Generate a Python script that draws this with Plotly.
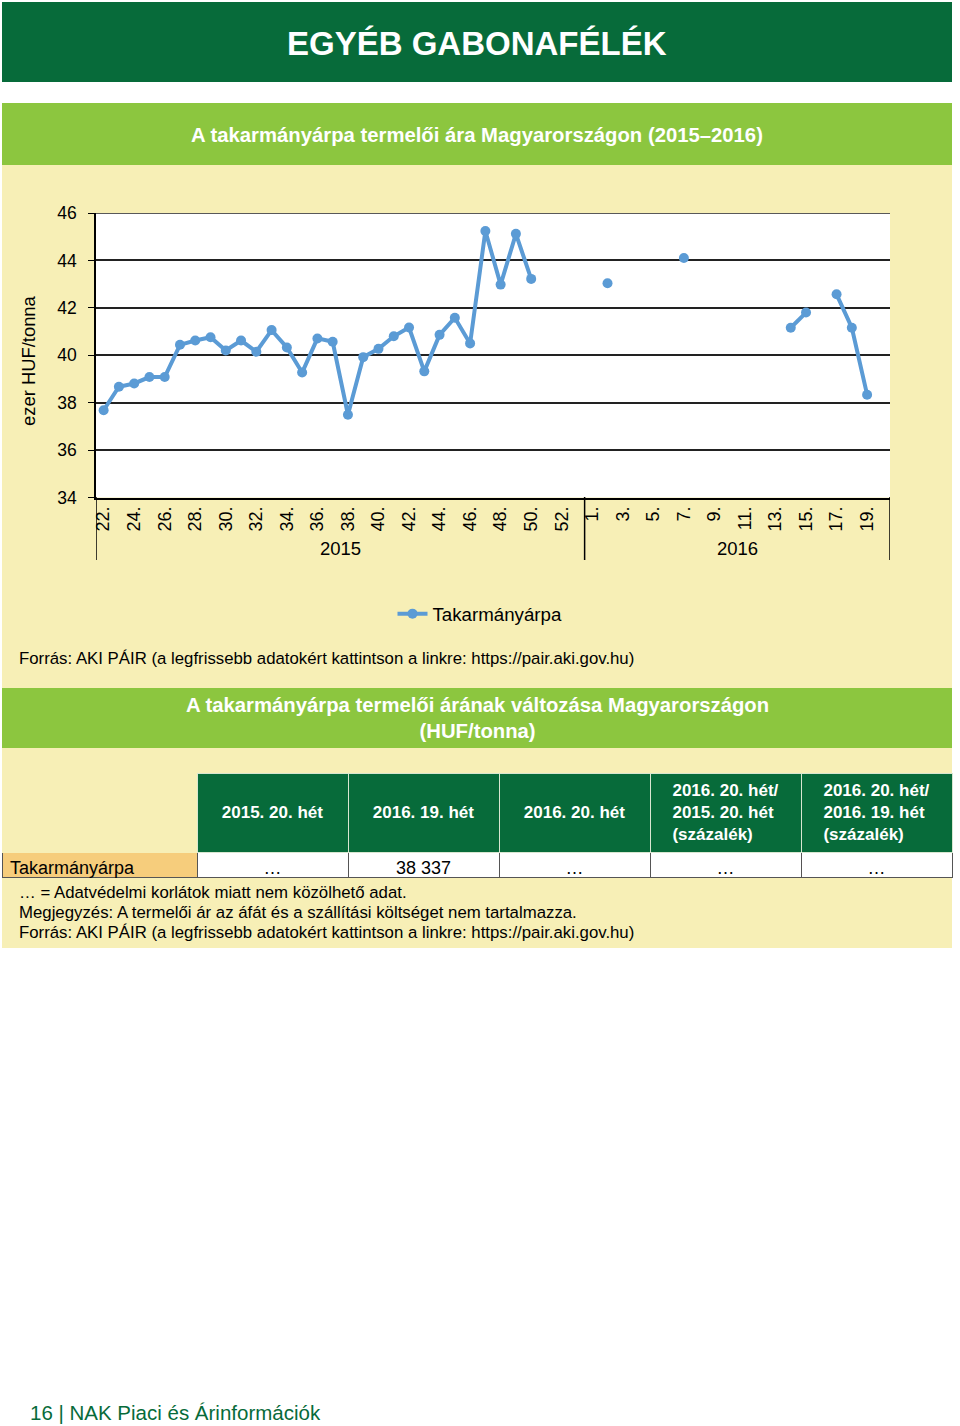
import plotly.graph_objects as go

# page size (px) - shapes / annotations are placed in paper coords
W, H = 960, 1426


def px(x):
    return x / W


def py(y):
    return 1 - y / H


DARK_GREEN = "#076b3a"
LIGHT_GREEN = "#8cc63f"
PALE = "#f7efb6"
ORANGE = "#f6cd7c"
BLUE = "#5b9bd5"
FONT = "Liberation Sans, Arial, sans-serif"

# ---- chart data (ezer HUF/tonna), weeks 2015/22 - 2016/20 ----
weeks_2015 = ["22.", "23.", "24.", "25.", "26.", "27.", "28.", "29.", "30.", "31.",
              "32.", "33.", "34.", "35.", "36.", "37.", "38.", "39.", "40.", "41.",
              "42.", "43.", "44.", "45.", "46.", "47.", "48.", "49.", "50.", "51.",
              "52.", "53."]
weeks_2016 = ["1.", "2.", "3.", "4.", "5.", "6.", "7.", "8.", "9.", "10.",
              "11.", "12.", "13.", "14.", "15.", "16.", "17.", "18.", "19.", "20."]

price_2015 = [37.68, 38.67, 38.81, 39.08, 39.08, 40.44, 40.62, 40.76, 40.20, 40.62,
              40.15, 41.06, 40.33, 39.27, 40.71, 40.57, 37.49, 39.92, 40.27, 40.80,
              41.17, 39.32, 40.86, 41.58, 40.50, 45.24, 42.98, 45.12, 43.22, None,
              None, None]
price_2016 = [None, 43.04, None, None, None, None, 44.10, None, None, None,
              None, None, None, 41.16, 41.80, None, 42.57, 41.16, 38.337, None]

tick_labels = ["22.", "24.", "26.", "28.", "30.", "32.", "34.", "36.", "38.", "40.",
               "42.", "44.", "46.", "48.", "50.", "52.",
               "1.", "3.", "5.", "7.", "9.", "11.", "13.", "15.", "17.", "19."]
years = ["2015", "2016"]
y_range = [34, 46]
series_name = "Takarmányárpa"

# ---- table data ----
table_header = ["", "2015. 20. hét", "2016. 19. hét", "2016. 20. hét",
                "2016. 20. hét/<br>2015. 20. hét<br>(százalék)",
                "2016. 20. hét/<br>2016. 19. hét<br>(százalék)"]
table_label = ["Takarmányárpa"]
table_values = [["…"], ["38 337"], ["…"], ["…"], ["…"]]

cats = weeks_2015 + weeks_2016
prices = price_2015 + price_2016

fig = go.Figure()

fig.add_trace(go.Scatter(
    x=cats, y=prices, name=series_name, mode="lines+markers",
    line=dict(color=BLUE, width=4), marker=dict(color=BLUE, size=10),
    connectgaps=False,
))


def head(t):
    # single line headers are pushed to the middle of the 3-line header row
    if "<br>" not in t and t:
        t = "\u00a0<br>" + t
    return "<b>" + t + "</b>"


fig.add_trace(go.Table(
    domain=dict(x=[px(2), px(952)], y=[py(890), py(773)]),
    columnwidth=[195, 151, 151, 151, 151, 151],
    header=dict(values=[head(t) for t in table_header],
                fill_color=[PALE] + [DARK_GREEN] * 5,
                line=dict(color=[PALE] + ["#d8e6d0"] * 5, width=1),
                font=dict(color="white", size=17, family=FONT),
                align="center", height=78),
    cells=dict(values=[table_label] + table_values,
               fill_color=[ORANGE] + ["white"] * 5,
               line=dict(color="#555555", width=1),
               font=dict(color="black", size=18, family=FONT),
               align=["left"] + ["center"] * 5, height=25),
))

shapes = [
    # header bands and background
    dict(type="rect", xref="paper", yref="paper", x0=px(2), x1=px(952), y0=py(82), y1=py(2),
         fillcolor=DARK_GREEN, line_width=0, layer="below"),
    dict(type="rect", xref="paper", yref="paper", x0=px(2), x1=px(952), y0=py(688), y1=py(165),
         fillcolor=PALE, line_width=0, layer="below"),
    dict(type="rect", xref="paper", yref="paper", x0=px(2), x1=px(952), y0=py(948), y1=py(748),
         fillcolor=PALE, line_width=0, layer="below"),
    dict(type="rect", xref="paper", yref="paper", x0=px(2), x1=px(952), y0=py(165), y1=py(103),
         fillcolor=LIGHT_GREEN, line_width=0, layer="below"),
    dict(type="rect", xref="paper", yref="paper", x0=px(2), x1=px(952), y0=py(748), y1=py(688),
         fillcolor=LIGHT_GREEN, line_width=0, layer="below"),
    # white plot area
    dict(type="rect", xref="x domain", yref="y domain", x0=0, x1=1, y0=0, y1=1,
         fillcolor="white", line_width=0, layer="below"),
    # top gridline (plotly drops the grid line at the range edge)
    dict(type="line", xref="x domain", yref="y", x0=0, x1=1, y0=y_range[1], y1=y_range[1],
         line=dict(color="#222222", width=1.5)),
]

# year group dividers below the category axis
n15, n16 = len(weeks_2015), len(weeks_2016)
for xv in [-0.5, n15 - 0.5, n15 + n16 - 0.5]:
    shapes.append(dict(type="line", xref="x", yref="paper", x0=xv, x1=xv,
                       y0=py(560), y1=py(497), line=dict(color="black", width=1.5)))

annotations = [
    dict(text="<b>EGYÉB GABONAFÉLÉK</b>", x=px(477), y=py(43), font=dict(size=33, color="white")),
    dict(text="<b>A takarmányárpa termelői ára Magyarországon (2015–2016)</b>",
         x=px(477), y=py(135), font=dict(size=20.3, color="white")),
    dict(text="<b>A takarmányárpa termelői árának változása Magyarországon<br>(HUF/tonna)</b>",
         x=px(477), y=py(718), font=dict(size=20.3, color="white")),
    dict(text="ezer HUF/tonna", x=px(28), y=py(361), textangle=-90, font=dict(size=18.4, color="black")),
    dict(text=years[0], x=(n15 - 1) / 2, xref="x", y=py(548), font=dict(size=18.5, color="black")),
    dict(text=years[1], x=n15 + (n16 - 1) / 2, xref="x", y=py(548), font=dict(size=18.5, color="black")),
    dict(text="Forrás: AKI PÁIR (a legfrissebb adatokért kattintson a linkre: https://pair.aki.gov.hu)",
         x=px(17), y=py(658), xanchor="left", font=dict(size=16.8, color="black")),
    dict(text="… = Adatvédelmi korlátok miatt nem közölhető adat.",
         x=px(17), y=py(892), xanchor="left", font=dict(size=16.8, color="black")),
    dict(text="Megjegyzés: A termelői ár az áfát és a szállítási költséget nem tartalmazza.",
         x=px(17), y=py(912), xanchor="left", font=dict(size=16.8, color="black")),
    dict(text="Forrás: AKI PÁIR (a legfrissebb adatokért kattintson a linkre: https://pair.aki.gov.hu)",
         x=px(17), y=py(932), xanchor="left", font=dict(size=16.8, color="black")),
    dict(text="16 | NAK Piaci és Árinformációk", x=px(28), y=py(1412), xanchor="left",
         font=dict(size=20.5, color=DARK_GREEN)),
]
for a in annotations:
    a.setdefault("xref", "paper")
    a["yref"] = "paper"
    a.setdefault("xanchor", "center")
    a["yanchor"] = "middle"
    a["showarrow"] = False

fig.update_layout(
    width=W, height=H,
    autosize=False,
    margin=dict(l=0, r=0, t=0, b=0, pad=0),
    paper_bgcolor="white",
    plot_bgcolor="rgba(0,0,0,0)",
    font=dict(family=FONT, color="black"),
    showlegend=True,
    legend=dict(orientation="h", x=px(480), y=py(614), xanchor="center", yanchor="middle",
                bgcolor="rgba(0,0,0,0)", font=dict(size=18.7)),
    xaxis=dict(domain=[px(96), px(890)], type="category", categoryorder="array",
               categoryarray=cats, tickmode="array", tickvals=tick_labels, ticktext=tick_labels,
               tickangle=-90, tickfont=dict(size=18), showgrid=False, showline=True,
               linecolor="black", linewidth=1.5, ticks="", range=[-0.5, len(cats) - 0.5],
               automargin=False, fixedrange=True),
    yaxis=dict(domain=[py(497.5), py(213)], range=y_range, dtick=2, showgrid=True,
               gridcolor="#222222", gridwidth=1.5, showline=True, linecolor="black",
               linewidth=1.5, ticks="outside", ticklen=6, tickcolor="black",
               ticklabelstandoff=8, tickfont=dict(size=17.5), zeroline=False,
               automargin=False),
    shapes=shapes,
    annotations=annotations,
)

# the page's default body margin would push the 960x1426 figure off the window
fig.write_html("out.html", config={"displayModeBar": False},
               post_script="document.body.style.margin = '0px';")
